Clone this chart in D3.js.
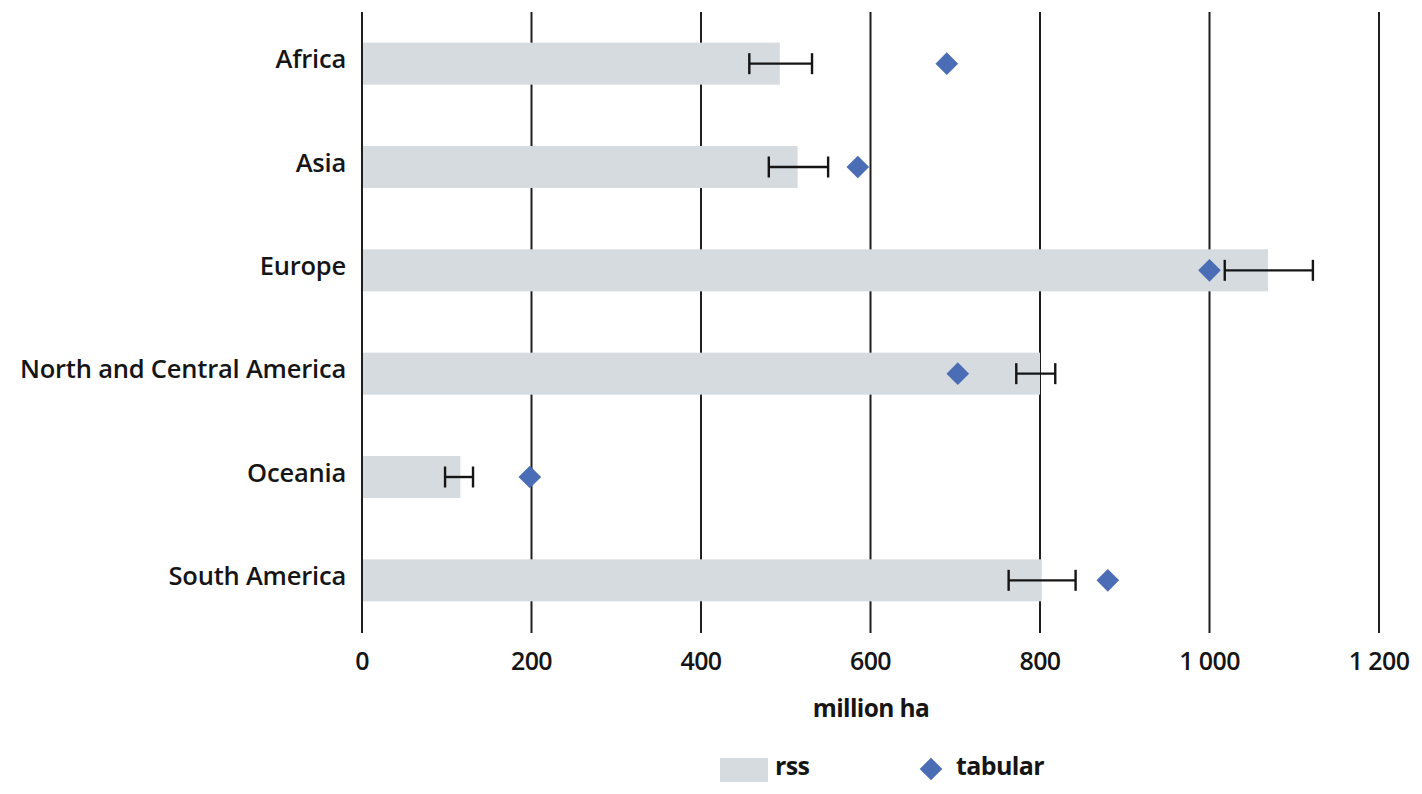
<!DOCTYPE html>
<html>
<head>
<meta charset="utf-8">
<script src="https://cdn.jsdelivr.net/npm/d3@7"></script>
<style>
  body { margin: 0; background: #fff; }
  svg text { font-family: "Open Sans", sans-serif; fill: #151515; }
</style>
</head>
<body>
<svg id="my_svg"></svg>
<script>
const width = 1422;
const height = 794;

const regions = ['Africa', 'Asia', 'Europe', 'North and Central America', 'Oceania', 'South America'];
const rssValues = [493, 514, 1069, 800, 116, 802];
const errLow = [457, 480, 1018, 772, 98, 763];
const errHigh = [531, 550, 1122, 818, 131, 842];
const tabularValues = [690, 585, 1000, 703, 198, 880];
const xTicks = [0, 200, 400, 600, 800, 1000, 1200];

const margin = {top: 12, right: 43, bottom: 162, left: 362};

const svg = d3.select('#my_svg')
    .attr('width', width)
    .attr('height', height);

const x = d3.scaleLinear()
    .domain([0, 1200])
    .range([margin.left, width - margin.right]);

const y = d3.scaleBand()
    .domain(regions)
    .range([margin.top, height - margin.bottom]);

const barH = 42;
const fmt = d => d3.format(',')(d).replace(',', ' ');

// grid lines (drawn first so bars sit on top)
svg.append('g')
    .selectAll('line')
    .data(xTicks)
    .enter().append('line')
    .attr('x1', d => x(d))
    .attr('x2', d => x(d))
    .attr('y1', margin.top)
    .attr('y2', height - margin.bottom + 1)
    .attr('stroke', '#1f1f1f')
    .attr('stroke-width', 2);

// rss bars
svg.append('g')
    .selectAll('rect')
    .data(regions)
    .enter().append('rect')
    .attr('x', x(0) + 1)
    .attr('y', d => y(d) + y.bandwidth() / 2 - barH / 2)
    .attr('width', (d, i) => x(rssValues[i]) - x(0) - 1)
    .attr('height', barH)
    .attr('fill', '#d5dbdf');

// error bars
const err = svg.append('g')
    .attr('stroke', '#151515')
    .attr('stroke-width', 2.4);

regions.forEach((r, i) => {
    const cy = y(r) + y.bandwidth() / 2;
    err.append('line')
        .attr('x1', x(errLow[i])).attr('x2', x(errHigh[i]))
        .attr('y1', cy).attr('y2', cy);
    [errLow[i], errHigh[i]].forEach(v => {
        err.append('line')
            .attr('x1', x(v)).attr('x2', x(v))
            .attr('y1', cy - 10.5).attr('y2', cy + 10.5);
    });
});

// tabular diamonds
const diamond = d3.symbol().type(d3.symbolSquare).size(256);
svg.append('g')
    .selectAll('path')
    .data(regions)
    .enter().append('path')
    .attr('d', diamond)
    .attr('transform', (d, i) => `translate(${x(tabularValues[i])},${y(d) + y.bandwidth() / 2}) rotate(45)`)
    .attr('fill', '#4a6db5');

// category labels
svg.append('g')
    .selectAll('text')
    .data(regions)
    .enter().append('text')
    .attr('x', margin.left - 16)
    .attr('y', d => y(d) + y.bandwidth() / 2 - 2)
    .attr('text-anchor', 'end')
    .attr('dominant-baseline', 'middle')
    .attr('font-size', 25.5)
    .attr('font-weight', 600)
    .attr('letter-spacing', -0.2)
    .text(d => d);

// x tick labels
svg.append('g')
    .selectAll('text')
    .data(xTicks)
    .enter().append('text')
    .attr('x', d => x(d))
    .attr('y', 663)
    .attr('text-anchor', 'middle')
    .attr('dominant-baseline', 'middle')
    .attr('font-size', 25)
    .attr('font-weight', 600)
    .attr('letter-spacing', -0.6)
    .text(d => fmt(d));

// axis title
svg.append('text')
    .attr('x', 871)
    .attr('y', 710)
    .attr('text-anchor', 'middle')
    .attr('dominant-baseline', 'middle')
    .attr('font-size', 24.5)
    .attr('font-weight', 700)
    .attr('letter-spacing', -0.6)
    .text('million ha');

// legend
const legend = svg.append('g');
legend.append('rect')
    .attr('x', 720).attr('y', 758)
    .attr('width', 48).attr('height', 24)
    .attr('fill', '#d5dbdf');
legend.append('text')
    .attr('x', 775).attr('y', 768)
    .attr('dominant-baseline', 'middle')
    .attr('font-size', 25)
    .attr('font-weight', 700)
    .attr('letter-spacing', -0.6)
    .text('rss');
legend.append('path')
    .attr('d', diamond)
    .attr('transform', 'translate(931,769) rotate(45)')
    .attr('fill', '#4a6db5');
legend.append('text')
    .attr('x', 956).attr('y', 768)
    .attr('dominant-baseline', 'middle')
    .attr('font-size', 25)
    .attr('font-weight', 700)
    .attr('letter-spacing', -0.6)
    .text('tabular');
</script>
</body>
</html>
